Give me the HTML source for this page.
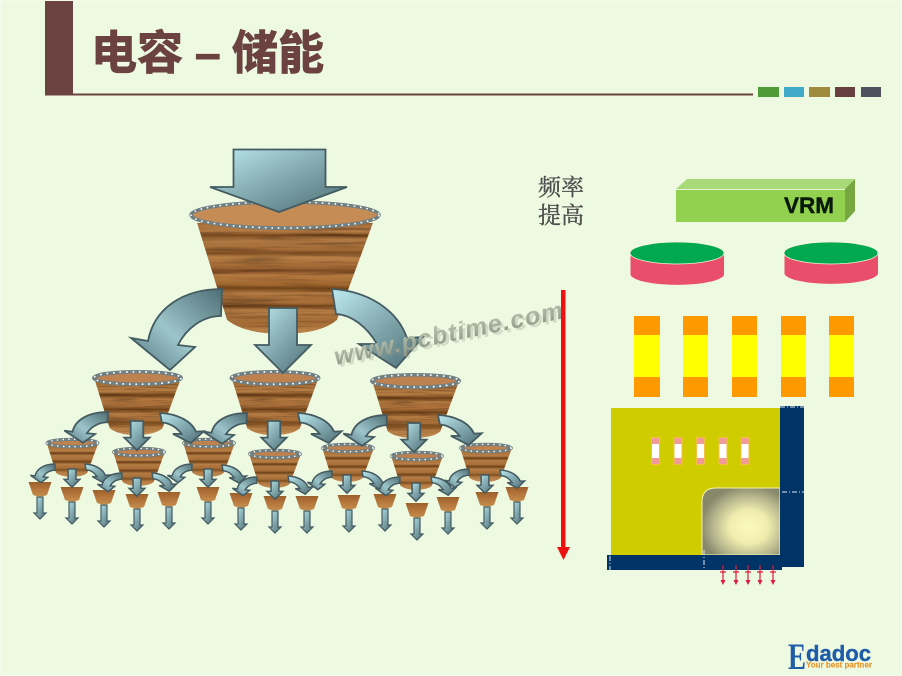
<!DOCTYPE html>
<html><head><meta charset="utf-8"><style>
html,body{margin:0;padding:0;background:#edf9e1}
svg{display:block}
</style></head><body>
<svg width="902" height="676" viewBox="0 0 902 676" xmlns="http://www.w3.org/2000/svg">
<defs>
<linearGradient id="steel" x1="0" y1="0" x2="1" y2="1">
<stop offset="0" stop-color="#bdeaee"/><stop offset=".4" stop-color="#8db5bb"/><stop offset="1" stop-color="#4c6c73"/>
</linearGradient>
<linearGradient id="steelL" x1="1" y1="0" x2="0" y2="1">
<stop offset="0" stop-color="#4f6f76"/><stop offset=".55" stop-color="#9cc5ca"/><stop offset="1" stop-color="#557780"/>
</linearGradient>
<linearGradient id="wood" x1="0" y1="0" x2="0" y2="1">
<stop offset="0" stop-color="#a8703c"/><stop offset=".08" stop-color="#b47c46"/><stop offset=".11" stop-color="#75461c"/><stop offset=".15" stop-color="#b07a45"/><stop offset=".24" stop-color="#a46c38"/><stop offset=".27" stop-color="#7e4e22"/><stop offset=".31" stop-color="#b98248"/><stop offset=".4" stop-color="#a36a36"/><stop offset=".43" stop-color="#7a4a22"/><stop offset=".47" stop-color="#b47a42"/><stop offset=".56" stop-color="#a0682f"/><stop offset=".59" stop-color="#744618"/><stop offset=".63" stop-color="#b27b44"/><stop offset=".72" stop-color="#a56d38"/><stop offset=".75" stop-color="#7c4c20"/><stop offset=".79" stop-color="#b57e46"/><stop offset=".9" stop-color="#a36b35"/><stop offset="1" stop-color="#c08a50"/>
</linearGradient>
<linearGradient id="woodM" x1="0" y1="0" x2="0" y2="1">
<stop offset="0" stop-color="#a06a36"/><stop offset=".18" stop-color="#b88046"/><stop offset=".25" stop-color="#6a3e16"/><stop offset=".32" stop-color="#b27a42"/><stop offset=".45" stop-color="#a96f3a"/><stop offset=".52" stop-color="#6e4218"/><stop offset=".6" stop-color="#b57d44"/><stop offset=".72" stop-color="#a66e38"/><stop offset=".78" stop-color="#80501f"/><stop offset=".85" stop-color="#b47c44"/><stop offset="1" stop-color="#c28c52"/>
</linearGradient>
<linearGradient id="woodT" x1="0" y1="0" x2="0" y2="1">
<stop offset="0" stop-color="#9c612c"/><stop offset=".5" stop-color="#b5763c"/><stop offset="1" stop-color="#c68e4d"/>
</linearGradient>
<radialGradient id="chip" cx=".6" cy=".58" r=".62">
<stop offset="0" stop-color="#fbfabd"/><stop offset=".4" stop-color="#efedae"/><stop offset=".75" stop-color="#b5b48c"/><stop offset="1" stop-color="#87876a"/>
</radialGradient>
<linearGradient id="wm" x1="0" y1="0" x2="0" y2="1">
<stop offset="0" stop-color="#c0cab4"/><stop offset="1" stop-color="#8a9385"/>
</linearGradient>
<filter id="grain" x="0" y="0" width="1" height="1" color-interpolation-filters="sRGB">
<feTurbulence type="fractalNoise" baseFrequency=".012 .3" numOctaves="3" seed="4" result="n"/>
<feColorMatrix in="n" type="matrix" values=".7 0 0 0 .62  .7 0 0 0 .6  .7 0 0 0 .58  0 0 0 0 1" result="g"/>
<feBlend in="SourceGraphic" in2="g" mode="multiply" result="b"/>
<feComposite in="b" in2="SourceGraphic" operator="in"/>
</filter>

<path id="d" d="M-14,0H14V37H28L0,65L-28,37H-14Z" fill="url(#steel)" stroke="#445b61" vector-effect="non-scaling-stroke"/>
<path id="l" d="M0,0C-40,0-68,20-74,52L-91,49L-52,81L-27,58L-44,56C-36,40-20,27-1,27Z" fill="url(#steelL)" stroke="#445b61" vector-effect="non-scaling-stroke"/>
<path id="r" d="M0,0C35,2 65,20 75,49L91,48L64,79L27,55L45,55C35,38 20,26 4,25Z" fill="url(#steel)" stroke="#445b61" vector-effect="non-scaling-stroke"/>

<g id="cb">
<path d="M-88,8L-58,105Q-40,119-3,119Q36,119 52,105L88,8Z" fill="url(#wood)" filter="url(#grain)"/>
<ellipse rx="94" ry="13" fill="#c68c55" stroke="#6f7f82" stroke-width="3.500"/>
<ellipse rx="94" ry="13" fill="none" stroke="#fff" stroke-width="1.600" stroke-dasharray="1.600 4.800"/>
</g>
<g id="cm">
<path d="M-88,8L-58,105Q-40,119-3,119Q36,119 52,105L88,8Z" fill="url(#woodM)" filter="url(#grain)"/>
<ellipse rx="91" ry="13" fill="#bd8250" stroke="#6f7f82" stroke-width="7.500"/>
<ellipse rx="91" ry="13" fill="none" stroke="#fff" stroke-width="3.500" stroke-dasharray="3.500 10"/>
</g>
<g id="cs">
<path d="M-88,8L-58,105Q-40,119-3,119Q36,119 52,105L88,8Z" fill="url(#woodM)"/>
<ellipse rx="89" ry="13" fill="#bd8250" stroke="#6f7f82" stroke-width="11"/>
<ellipse rx="89" ry="13" fill="none" stroke="#fff" stroke-width="5" stroke-dasharray="5 15"/>
</g>
<g id="t">
<path d="M-3,15H3V31H6L0,37L-6,31H-3Z" fill="url(#steel)" stroke="#445b61" stroke-width="1.200"/>
<path d="M-11.500,0H11.500L7,13Q0,16-7,13Z" fill="url(#woodT)"/>
</g>
</defs>

<rect width="902" height="676" fill="#edf9e1"/>
<rect x="0" y="0" width="902" height="676" fill="none" stroke="#f6fbf0" stroke-width="1.500"/>

<!-- header -->
<rect x="45" y="1" width="28" height="94" fill="#6b4240"/>
<rect x="45" y="93.500" width="708" height="2" fill="#6b4240"/>
<rect x="758" y="87" width="21" height="10" fill="#4f9b38"/>
<rect x="784" y="87" width="20" height="10" fill="#3fa9c9"/>
<rect x="809" y="87" width="21" height="10" fill="#a08a3e"/>
<rect x="835" y="87" width="20" height="10" fill="#65403f"/>
<rect x="861" y="87" width="20" height="10" fill="#50505f"/>
<g fill="#6b4240" stroke="#6b4240" stroke-width="1">
<text x="91" y="69" font-family="'Liberation Sans','Noto Sans CJK SC',sans-serif" font-weight="700" font-size="46">电容</text>
<text x="195" y="69" font-family="'Liberation Sans',sans-serif" font-weight="700" font-size="46">–</text>
<text x="232" y="69" font-family="'Liberation Sans','Noto Sans CJK SC',sans-serif" font-weight="700" font-size="46">储能</text>
</g>

<!-- tiny cups -->
<use href="#t" transform="translate(40,482)"/>
<use href="#t" transform="translate(72,487)"/>
<use href="#t" transform="translate(104,490)"/>
<use href="#t" transform="translate(137,494)"/>
<use href="#t" transform="translate(169,492)"/>
<use href="#t" transform="translate(208,487)"/>
<use href="#t" transform="translate(241,493)"/>
<use href="#t" transform="translate(275,496)"/>
<use href="#t" transform="translate(307,496)"/>
<use href="#t" transform="translate(349,495)"/>
<use href="#t" transform="translate(385,494)"/>
<use href="#t" transform="translate(417,503)"/>
<use href="#t" transform="translate(448,497)"/>
<use href="#t" transform="translate(487,492)"/>
<use href="#t" transform="translate(517,487)"/>

<!-- small cups -->
<use href="#cs" transform="translate(72.500,443) scale(.285)"/>
<use href="#cs" transform="translate(139,452) scale(.285)"/>
<use href="#cs" transform="translate(209,443) scale(.285)"/>
<use href="#cs" transform="translate(275,454) scale(.285)"/>
<use href="#cs" transform="translate(348,448) scale(.285)"/>
<use href="#cs" transform="translate(417,456) scale(.285)"/>
<use href="#cs" transform="translate(486,448) scale(.285)"/>

<!-- small arrows -->
<g stroke-width="1.500">
<use href="#l" transform="translate(55,464) scale(.27,.23)"/>
<use href="#d" transform="translate(72,469) scale(.28)"/>
<use href="#r" transform="translate(85,464) scale(.27,.23)"/>
<use href="#l" transform="translate(122,473) scale(.27,.23)"/>
<use href="#d" transform="translate(137,478) scale(.28)"/>
<use href="#r" transform="translate(152,473) scale(.27,.23)"/>
<use href="#l" transform="translate(192,464) scale(.27,.23)"/>
<use href="#d" transform="translate(208,469) scale(.28)"/>
<use href="#r" transform="translate(222,465) scale(.27,.23)"/>
<use href="#l" transform="translate(257,477) scale(.27,.23)"/>
<use href="#d" transform="translate(275,481) scale(.28)"/>
<use href="#r" transform="translate(288,476) scale(.27,.23)"/>
<use href="#l" transform="translate(332,471) scale(.27,.23)"/>
<use href="#d" transform="translate(347,475) scale(.28)"/>
<use href="#r" transform="translate(362,471) scale(.27,.23)"/>
<use href="#l" transform="translate(400,477) scale(.27,.23)"/>
<use href="#d" transform="translate(416,483) scale(.28)"/>
<use href="#r" transform="translate(431,477) scale(.27,.23)"/>
<use href="#l" transform="translate(469,469) scale(.27,.23)"/>
<use href="#d" transform="translate(485,475) scale(.28)"/>
<use href="#r" transform="translate(500,470) scale(.27,.23)"/>
</g>

<!-- mid cups -->
<use href="#cm" transform="translate(137.500,378) scale(.48)"/>
<use href="#cm" transform="translate(275,378) scale(.48)"/>
<use href="#cm" transform="translate(415.500,381) scale(.48)"/>

<!-- mid arrows -->
<g stroke-width="1.800">
<use href="#l" transform="translate(108,412) scale(.48,.38)"/>
<use href="#d" transform="translate(137,421) scale(.45)"/>
<use href="#r" transform="translate(160,413) scale(.48,.38)"/>
<use href="#l" transform="translate(247,413) scale(.48,.38)"/>
<use href="#d" transform="translate(274,421) scale(.45)"/>
<use href="#r" transform="translate(298,413) scale(.48,.38)"/>
<use href="#l" transform="translate(387,415) scale(.48,.38)"/>
<use href="#d" transform="translate(414,423) scale(.45)"/>
<use href="#r" transform="translate(438,415) scale(.48,.38)"/>
</g>

<!-- big cup -->
<use href="#cb" transform="translate(285,215)"/>
<path d="M233.500,149.500H325.500V187H347L279,212L210,187H233.500Z" fill="url(#steel)" stroke="#445b61" stroke-width="1.800"/>
<g stroke-width="1.800">
<use href="#l" transform="translate(222,289)"/>
<use href="#d" transform="translate(283,308)"/>
<use href="#r" transform="translate(332,289)"/>
</g>

<!-- watermark -->
<text transform="translate(337,366) rotate(-11.6)" font-family="'Liberation Sans',sans-serif" font-weight="700" font-style="italic" font-size="25" textLength="233" fill="#8f9a88" opacity=".3" dx="1.500" dy="1.500">www.pcbtime.com</text>
<text transform="translate(336,365) rotate(-11.6)" font-family="'Liberation Sans',sans-serif" font-weight="700" font-style="italic" font-size="25" textLength="233" fill="url(#wm)">www.pcbtime.com</text>

<!-- label -->
<g font-family="'Liberation Serif','Noto Serif CJK SC',serif" font-size="23" fill="#4f4f4f" stroke="#4f4f4f" stroke-width=".35">
<text x="538" y="195">频率</text>
<text x="538" y="223">提高</text>
</g>

<!-- red arrow -->
<rect x="561" y="290" width="4.500" height="260" fill="#ee1111"/>
<path d="M557,547H570L563.500,560Z" fill="#ee1111"/>

<!-- VRM -->
<path d="M676,189L687,179H855L845,189Z" fill="#a9da78"/>
<path d="M845,189L855,179V211L845,222Z" fill="#76a741"/>
<rect x="676" y="189" width="169" height="33" fill="#92d050"/>
<path d="M676,189.500H845" stroke="#e9f6d8" stroke-width="1"/>
<text x="784" y="213" font-family="'Liberation Sans',sans-serif" font-weight="700" font-size="22" fill="#0a1a0a" stroke="#0a1a0a" stroke-width=".4" textLength="50" lengthAdjust="spacingAndGlyphs">VRM</text>

<!-- discs -->
<path d="M630.500,253V275A47,11 0 0 0 724,275V253Z" fill="#e94f6b"/>
<ellipse cx="677" cy="253" rx="47" ry="11" fill="#00a84f" stroke="#f4f4d8" stroke-width=".8"/>
<path d="M784.500,253V274A47,11 0 0 0 878,274V253Z" fill="#e94f6b"/>
<ellipse cx="831" cy="253" rx="47" ry="11" fill="#00a84f" stroke="#f4f4d8" stroke-width=".8"/>

<!-- caps -->
<g fill="#ffff00">
<rect x="634" y="335" width="26" height="42"/><rect x="683" y="335" width="25" height="42"/><rect x="732" y="335" width="25" height="42"/><rect x="781" y="335" width="25" height="42"/><rect x="829" y="335" width="25" height="42"/>
</g>
<g fill="#ff9900">
<rect x="634" y="316" width="26" height="19"/><rect x="683" y="316" width="25" height="19"/><rect x="732" y="316" width="25" height="19"/><rect x="781" y="316" width="25" height="19"/><rect x="829" y="316" width="25" height="19"/>
<rect x="634" y="377" width="26" height="20"/><rect x="683" y="377" width="25" height="20"/><rect x="732" y="377" width="25" height="20"/><rect x="781" y="377" width="25" height="20"/><rect x="829" y="377" width="25" height="20"/>
</g>

<!-- board -->
<rect x="611" y="408" width="170" height="148" fill="#cfcc00"/>
<path d="M702,555V502Q702,488 716,488H780V555Z" fill="url(#chip)" stroke="#f4f3b0" stroke-width="1"/>
<rect x="780" y="406" width="24" height="161" fill="#003366"/>
<rect x="607" y="555" width="175" height="15" fill="#003366"/>
<g stroke="#dfe9f0" stroke-width="1" stroke-dasharray="5 2 1 2" fill="none">
<path d="M780,407H804M782,492H804M704,550V570M610,556V570"/>
</g>
<g>
<g fill="#fff" stroke="#f4c040" stroke-width="1">
<rect x="651.500" y="437.500" width="8" height="27"/><rect x="674" y="437.500" width="8" height="27"/><rect x="696.500" y="437.500" width="8" height="27"/><rect x="719" y="437.500" width="8" height="27"/><rect x="741" y="437.500" width="8" height="27"/>
</g>
<g fill="#f09a9a">
<rect x="652" y="438" width="7" height="6"/><rect x="674.500" y="438" width="7" height="6"/><rect x="697" y="438" width="7" height="6"/><rect x="719.500" y="438" width="7" height="6"/><rect x="741.500" y="438" width="7" height="6"/>
<rect x="652" y="458" width="7" height="6"/><rect x="674.500" y="458" width="7" height="6"/><rect x="697" y="458" width="7" height="6"/><rect x="719.500" y="458" width="7" height="6"/><rect x="741.500" y="458" width="7" height="6"/>
</g>
</g>
<g stroke="#e01a3c" stroke-width="1.200" fill="#e01a3c">
<path d="M723,565V580M736,565V580M748,565V580M760,565V580M773,565V580" fill="none"/>
<path d="M720,572H726M733,572H739M745,572H751M757,572H763M770,572H776" fill="none"/>
<path d="M720.500,580H725.500L723,585ZM733.500,580H738.500L736,585ZM745.500,580H750.500L748,585ZM757.500,580H762.500L760,585ZM770.500,580H775.500L773,585Z" stroke="none"/>
</g>

<!-- logo -->
<text x="788" y="669" font-family="'Liberation Serif',serif" font-weight="700" font-size="37" fill="#1f5da8" textLength="18" lengthAdjust="spacingAndGlyphs">E</text>
<text x="806" y="661" font-family="'Liberation Sans',sans-serif" font-weight="700" font-size="22" fill="#1f5da8" stroke="#1f5da8" stroke-width=".4" textLength="65" lengthAdjust="spacingAndGlyphs">dadoc</text>
<text x="806" y="667.500" font-family="'Liberation Sans',sans-serif" font-weight="700" font-size="8" fill="#e8952a" stroke="#e8952a" stroke-width=".15" textLength="66" lengthAdjust="spacingAndGlyphs">Your best partner</text>
</svg>
</body></html>
